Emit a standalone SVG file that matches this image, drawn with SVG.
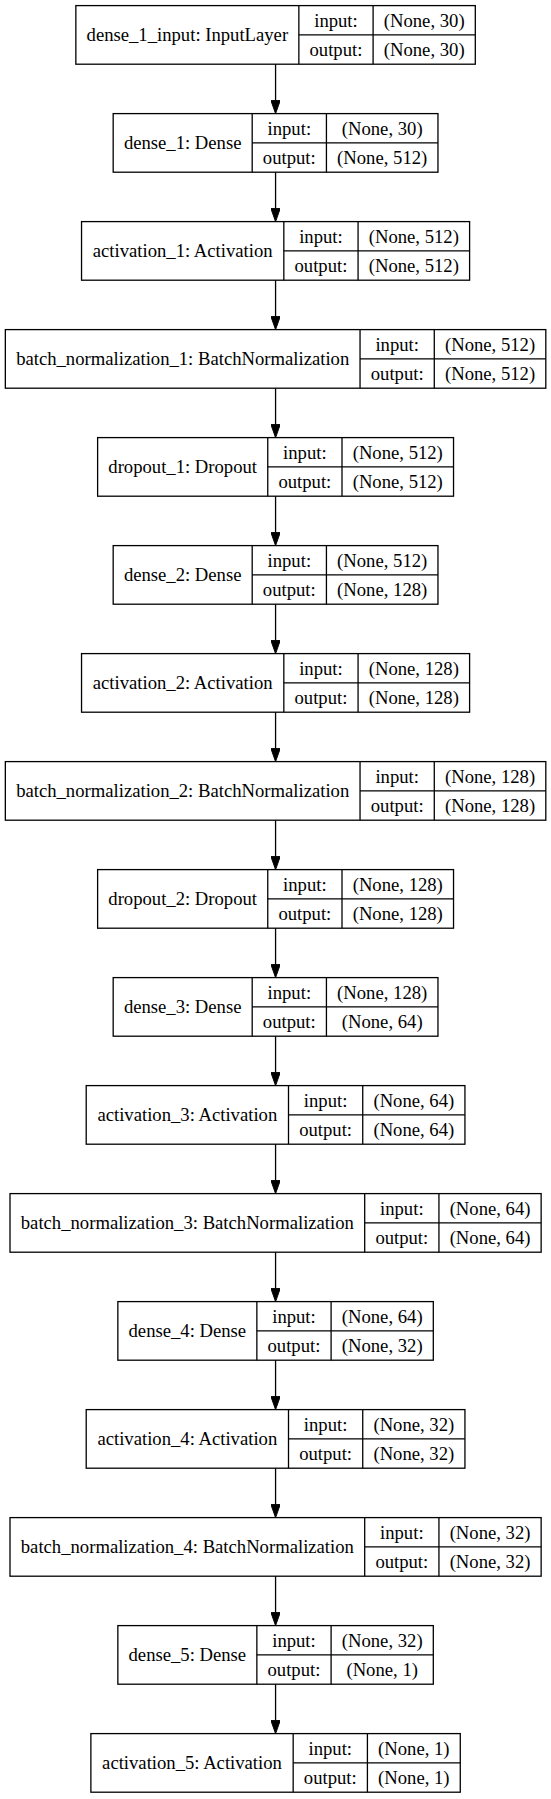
<svg xmlns="http://www.w3.org/2000/svg" width="551" height="1799" viewBox="0 0 551 1799">
<style>
.bg{fill:#ffffff}
.box{fill:#ffffff;stroke:#000000;stroke-width:1.3}
.sep{stroke:#000000;stroke-width:1.3}
text{font-family:"Liberation Serif","Times New Roman",serif;font-size:18.67px;fill:#000000;text-anchor:middle}
.edge{stroke:#000000;stroke-width:1.3;fill:none}
</style>
<defs>
<marker id="arr" markerUnits="userSpaceOnUse" viewBox="0 0 13.3 9.4" refX="0" refY="4.7" markerWidth="13.3" markerHeight="9.4" orient="auto">
<path d="M0,0 L13.3,4.7 L0,9.4 Z" fill="#000000" stroke="#000000" stroke-width="1"/>
</marker>
</defs>
<rect class="bg" x="0" y="0" width="551" height="1799"/>
<g id="edges">
<line class="edge" x1="275.57" y1="64.2" x2="275.57" y2="100.3" marker-end="url(#arr)"/>
<line class="edge" x1="275.57" y1="172.2" x2="275.57" y2="208.3" marker-end="url(#arr)"/>
<line class="edge" x1="275.57" y1="280.2" x2="275.57" y2="316.3" marker-end="url(#arr)"/>
<line class="edge" x1="275.57" y1="388.2" x2="275.57" y2="424.3" marker-end="url(#arr)"/>
<line class="edge" x1="275.57" y1="496.2" x2="275.57" y2="532.3" marker-end="url(#arr)"/>
<line class="edge" x1="275.57" y1="604.2" x2="275.57" y2="640.3" marker-end="url(#arr)"/>
<line class="edge" x1="275.57" y1="712.2" x2="275.57" y2="748.3" marker-end="url(#arr)"/>
<line class="edge" x1="275.57" y1="820.2" x2="275.57" y2="856.3" marker-end="url(#arr)"/>
<line class="edge" x1="275.57" y1="928.2" x2="275.57" y2="964.3" marker-end="url(#arr)"/>
<line class="edge" x1="275.57" y1="1036.2" x2="275.57" y2="1072.3" marker-end="url(#arr)"/>
<line class="edge" x1="275.57" y1="1144.2" x2="275.57" y2="1180.3" marker-end="url(#arr)"/>
<line class="edge" x1="275.57" y1="1252.2" x2="275.57" y2="1288.3" marker-end="url(#arr)"/>
<line class="edge" x1="275.57" y1="1360.2" x2="275.57" y2="1396.3" marker-end="url(#arr)"/>
<line class="edge" x1="275.57" y1="1468.2" x2="275.57" y2="1504.3" marker-end="url(#arr)"/>
<line class="edge" x1="275.57" y1="1576.2" x2="275.57" y2="1612.3" marker-end="url(#arr)"/>
<line class="edge" x1="275.57" y1="1684.2" x2="275.57" y2="1720.3" marker-end="url(#arr)"/>
</g>

<g id="dense_1_input" transform="translate(0,5.6)">
<rect class="box" x="75.85" y="0" width="399.45" height="58.6"/>
<line class="sep" x1="298.86" y1="0" x2="298.86" y2="58.6"/>
<line class="sep" x1="373.10" y1="0" x2="373.10" y2="58.6"/>
<line class="sep" x1="298.86" y1="29.3" x2="475.30" y2="29.3"/>
<text x="187.35" y="35.6">dense_1_input: InputLayer</text>
<text x="335.98" y="21">input:</text>
<text x="335.98" y="50.3">output:</text>
<text x="424.20" y="21">(None, 30)</text>
<text x="424.20" y="50.3">(None, 30)</text>
</g>

<g id="dense_1" transform="translate(0,113.6)">
<rect class="box" x="113.18" y="0" width="324.78" height="58.6"/>
<line class="sep" x1="252.19" y1="0" x2="252.19" y2="58.6"/>
<line class="sep" x1="326.43" y1="0" x2="326.43" y2="58.6"/>
<line class="sep" x1="252.19" y1="29.3" x2="437.96" y2="29.3"/>
<text x="182.69" y="35.6">dense_1: Dense</text>
<text x="289.31" y="21">input:</text>
<text x="289.31" y="50.3">output:</text>
<text x="382.20" y="21">(None, 30)</text>
<text x="382.20" y="50.3">(None, 512)</text>
</g>

<g id="activation_1" transform="translate(0,221.6)">
<rect class="box" x="81.54" y="0" width="388.06" height="58.6"/>
<line class="sep" x1="283.83" y1="0" x2="283.83" y2="58.6"/>
<line class="sep" x1="358.07" y1="0" x2="358.07" y2="58.6"/>
<line class="sep" x1="283.83" y1="29.3" x2="469.60" y2="29.3"/>
<text x="182.69" y="35.6">activation_1: Activation</text>
<text x="320.95" y="21">input:</text>
<text x="320.95" y="50.3">output:</text>
<text x="413.84" y="21">(None, 512)</text>
<text x="413.84" y="50.3">(None, 512)</text>
</g>

<g id="batch_normalization_1" transform="translate(0,329.6)">
<rect class="box" x="5.34" y="0" width="540.47" height="58.6"/>
<line class="sep" x1="360.04" y1="0" x2="360.04" y2="58.6"/>
<line class="sep" x1="434.28" y1="0" x2="434.28" y2="58.6"/>
<line class="sep" x1="360.04" y1="29.3" x2="545.81" y2="29.3"/>
<text x="182.69" y="35.6">batch_normalization_1: BatchNormalization</text>
<text x="397.16" y="21">input:</text>
<text x="397.16" y="50.3">output:</text>
<text x="490.05" y="21">(None, 512)</text>
<text x="490.05" y="50.3">(None, 512)</text>
</g>

<g id="dropout_1" transform="translate(0,437.6)">
<rect class="box" x="97.62" y="0" width="355.91" height="58.6"/>
<line class="sep" x1="267.76" y1="0" x2="267.76" y2="58.6"/>
<line class="sep" x1="342.00" y1="0" x2="342.00" y2="58.6"/>
<line class="sep" x1="267.76" y1="29.3" x2="453.53" y2="29.3"/>
<text x="182.69" y="35.6">dropout_1: Dropout</text>
<text x="304.88" y="21">input:</text>
<text x="304.88" y="50.3">output:</text>
<text x="397.77" y="21">(None, 512)</text>
<text x="397.77" y="50.3">(None, 512)</text>
</g>

<g id="dense_2" transform="translate(0,545.6)">
<rect class="box" x="113.18" y="0" width="324.78" height="58.6"/>
<line class="sep" x1="252.19" y1="0" x2="252.19" y2="58.6"/>
<line class="sep" x1="326.43" y1="0" x2="326.43" y2="58.6"/>
<line class="sep" x1="252.19" y1="29.3" x2="437.96" y2="29.3"/>
<text x="182.69" y="35.6">dense_2: Dense</text>
<text x="289.31" y="21">input:</text>
<text x="289.31" y="50.3">output:</text>
<text x="382.20" y="21">(None, 512)</text>
<text x="382.20" y="50.3">(None, 128)</text>
</g>

<g id="activation_2" transform="translate(0,653.6)">
<rect class="box" x="81.54" y="0" width="388.06" height="58.6"/>
<line class="sep" x1="283.83" y1="0" x2="283.83" y2="58.6"/>
<line class="sep" x1="358.07" y1="0" x2="358.07" y2="58.6"/>
<line class="sep" x1="283.83" y1="29.3" x2="469.60" y2="29.3"/>
<text x="182.69" y="35.6">activation_2: Activation</text>
<text x="320.95" y="21">input:</text>
<text x="320.95" y="50.3">output:</text>
<text x="413.84" y="21">(None, 128)</text>
<text x="413.84" y="50.3">(None, 128)</text>
</g>

<g id="batch_normalization_2" transform="translate(0,761.6)">
<rect class="box" x="5.34" y="0" width="540.47" height="58.6"/>
<line class="sep" x1="360.04" y1="0" x2="360.04" y2="58.6"/>
<line class="sep" x1="434.28" y1="0" x2="434.28" y2="58.6"/>
<line class="sep" x1="360.04" y1="29.3" x2="545.81" y2="29.3"/>
<text x="182.69" y="35.6">batch_normalization_2: BatchNormalization</text>
<text x="397.16" y="21">input:</text>
<text x="397.16" y="50.3">output:</text>
<text x="490.05" y="21">(None, 128)</text>
<text x="490.05" y="50.3">(None, 128)</text>
</g>

<g id="dropout_2" transform="translate(0,869.6)">
<rect class="box" x="97.62" y="0" width="355.91" height="58.6"/>
<line class="sep" x1="267.76" y1="0" x2="267.76" y2="58.6"/>
<line class="sep" x1="342.00" y1="0" x2="342.00" y2="58.6"/>
<line class="sep" x1="267.76" y1="29.3" x2="453.53" y2="29.3"/>
<text x="182.69" y="35.6">dropout_2: Dropout</text>
<text x="304.88" y="21">input:</text>
<text x="304.88" y="50.3">output:</text>
<text x="397.77" y="21">(None, 128)</text>
<text x="397.77" y="50.3">(None, 128)</text>
</g>

<g id="dense_3" transform="translate(0,977.6)">
<rect class="box" x="113.18" y="0" width="324.78" height="58.6"/>
<line class="sep" x1="252.19" y1="0" x2="252.19" y2="58.6"/>
<line class="sep" x1="326.43" y1="0" x2="326.43" y2="58.6"/>
<line class="sep" x1="252.19" y1="29.3" x2="437.96" y2="29.3"/>
<text x="182.69" y="35.6">dense_3: Dense</text>
<text x="289.31" y="21">input:</text>
<text x="289.31" y="50.3">output:</text>
<text x="382.20" y="21">(None, 128)</text>
<text x="382.20" y="50.3">(None, 64)</text>
</g>

<g id="activation_3" transform="translate(0,1085.6)">
<rect class="box" x="86.21" y="0" width="378.73" height="58.6"/>
<line class="sep" x1="288.50" y1="0" x2="288.50" y2="58.6"/>
<line class="sep" x1="362.74" y1="0" x2="362.74" y2="58.6"/>
<line class="sep" x1="288.50" y1="29.3" x2="464.94" y2="29.3"/>
<text x="187.35" y="35.6">activation_3: Activation</text>
<text x="325.62" y="21">input:</text>
<text x="325.62" y="50.3">output:</text>
<text x="413.84" y="21">(None, 64)</text>
<text x="413.84" y="50.3">(None, 64)</text>
</g>

<g id="batch_normalization_3" transform="translate(0,1193.6)">
<rect class="box" x="10.00" y="0" width="531.14" height="58.6"/>
<line class="sep" x1="364.70" y1="0" x2="364.70" y2="58.6"/>
<line class="sep" x1="438.94" y1="0" x2="438.94" y2="58.6"/>
<line class="sep" x1="364.70" y1="29.3" x2="541.14" y2="29.3"/>
<text x="187.35" y="35.6">batch_normalization_3: BatchNormalization</text>
<text x="401.82" y="21">input:</text>
<text x="401.82" y="50.3">output:</text>
<text x="490.04" y="21">(None, 64)</text>
<text x="490.04" y="50.3">(None, 64)</text>
</g>

<g id="dense_4" transform="translate(0,1301.6)">
<rect class="box" x="117.85" y="0" width="315.45" height="58.6"/>
<line class="sep" x1="256.86" y1="0" x2="256.86" y2="58.6"/>
<line class="sep" x1="331.10" y1="0" x2="331.10" y2="58.6"/>
<line class="sep" x1="256.86" y1="29.3" x2="433.30" y2="29.3"/>
<text x="187.35" y="35.6">dense_4: Dense</text>
<text x="293.98" y="21">input:</text>
<text x="293.98" y="50.3">output:</text>
<text x="382.20" y="21">(None, 64)</text>
<text x="382.20" y="50.3">(None, 32)</text>
</g>

<g id="activation_4" transform="translate(0,1409.6)">
<rect class="box" x="86.21" y="0" width="378.73" height="58.6"/>
<line class="sep" x1="288.50" y1="0" x2="288.50" y2="58.6"/>
<line class="sep" x1="362.74" y1="0" x2="362.74" y2="58.6"/>
<line class="sep" x1="288.50" y1="29.3" x2="464.94" y2="29.3"/>
<text x="187.35" y="35.6">activation_4: Activation</text>
<text x="325.62" y="21">input:</text>
<text x="325.62" y="50.3">output:</text>
<text x="413.84" y="21">(None, 32)</text>
<text x="413.84" y="50.3">(None, 32)</text>
</g>

<g id="batch_normalization_4" transform="translate(0,1517.6)">
<rect class="box" x="10.00" y="0" width="531.14" height="58.6"/>
<line class="sep" x1="364.70" y1="0" x2="364.70" y2="58.6"/>
<line class="sep" x1="438.94" y1="0" x2="438.94" y2="58.6"/>
<line class="sep" x1="364.70" y1="29.3" x2="541.14" y2="29.3"/>
<text x="187.35" y="35.6">batch_normalization_4: BatchNormalization</text>
<text x="401.82" y="21">input:</text>
<text x="401.82" y="50.3">output:</text>
<text x="490.04" y="21">(None, 32)</text>
<text x="490.04" y="50.3">(None, 32)</text>
</g>

<g id="dense_5" transform="translate(0,1625.6)">
<rect class="box" x="117.85" y="0" width="315.45" height="58.6"/>
<line class="sep" x1="256.86" y1="0" x2="256.86" y2="58.6"/>
<line class="sep" x1="331.10" y1="0" x2="331.10" y2="58.6"/>
<line class="sep" x1="256.86" y1="29.3" x2="433.30" y2="29.3"/>
<text x="187.35" y="35.6">dense_5: Dense</text>
<text x="293.98" y="21">input:</text>
<text x="293.98" y="50.3">output:</text>
<text x="382.20" y="21">(None, 32)</text>
<text x="382.20" y="50.3">(None, 1)</text>
</g>

<g id="activation_5" transform="translate(0,1733.6)">
<rect class="box" x="90.88" y="0" width="369.39" height="58.6"/>
<line class="sep" x1="293.17" y1="0" x2="293.17" y2="58.6"/>
<line class="sep" x1="367.41" y1="0" x2="367.41" y2="58.6"/>
<line class="sep" x1="293.17" y1="29.3" x2="460.27" y2="29.3"/>
<text x="192.02" y="35.6">activation_5: Activation</text>
<text x="330.29" y="21">input:</text>
<text x="330.29" y="50.3">output:</text>
<text x="413.84" y="21">(None, 1)</text>
<text x="413.84" y="50.3">(None, 1)</text>
</g>
</svg>
